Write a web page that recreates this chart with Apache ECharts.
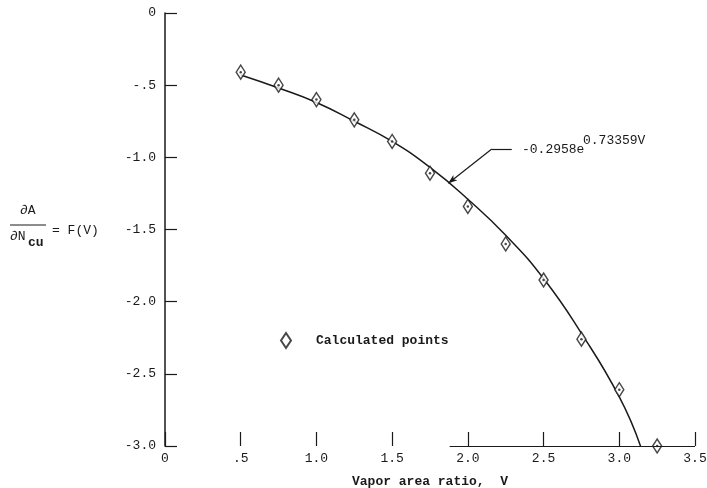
<!DOCTYPE html>
<html>
<head>
<meta charset="utf-8">
<script src="https://cdn.jsdelivr.net/npm/echarts@6/dist/echarts.min.js"></script>
<style>
	html, body { margin: 0; padding: 0; background: #fff; }
	#chart { width: 707px; height: 488px; }
</style>
</head>
<body>
<div id="chart"></div>
<script>
// calculated points
var pointV = [0.5, 0.75, 1.0, 1.25, 1.5, 1.75, 2.0, 2.25, 2.5, 2.75, 3.0, 3.25];
var pointF = [-0.41, -0.50, -0.60, -0.74, -0.89, -1.11, -1.34, -1.60, -1.85, -2.26, -2.61, -3.0];
// fitted curve
var curveV = [0.5, 0.75, 1.0, 1.25, 1.5, 1.75, 2.0, 2.25, 2.5, 2.75, 3.0, 3.14];
var curveF = [-0.43, -0.52, -0.62, -0.75, -0.89, -1.07, -1.29, -1.54, -1.84, -2.22, -2.66, -3.0];
var xTickValues = [0, 0.5, 1.0, 1.5, 2.0, 2.5, 3.0, 3.5];
var xTickLabels = ['0', '.5', '1.0', '1.5', '2.0', '2.5', '3.0', '3.5'];
var yTickValues = [0, -0.5, -1.0, -1.5, -2.0, -2.5, -3.0];
var yTickLabels = ['0', '-.5', '-1.0', '-1.5', '-2.0', '-2.5', '-3.0'];

var FONT = '"Liberation Mono", "DejaVu Sans Mono", monospace';
var INK = '#1a1a1a';

function zip(a, b) {
	var out = [];
	for (var i = 0; i < a.length; i++) out.push([a[i], b[i]]);
	return out;
}

function tickLabel(values, labels) {
	return function(v) {
		for (var i = 0; i < values.length; i++) {
			if (Math.abs(values[i] - v) < 1e-6) return labels[i];
		}
		return '';
	};
}

var myChart = echarts.init(document.getElementById('chart'));

var option = {
	animation: false,
	backgroundColor: '#fff',
	grid: {
		left: 165,
		right: 12,
		top: 13,
		bottom: 42,
		containLabel: false,
		outerBoundsMode: 'none'
	},
	legend: {
		data: ['Calculated points'],
		left: 275,
		top: 327,
		icon: 'diamond',
		itemWidth: 10,
		itemHeight: 15,
		selectedMode: false,
		textStyle: {
			fontFamily: FONT,
			fontSize: 13,
			fontWeight: 'bold',
			color: INK,
			padding: [0, 0, 0, 20]
		}
	},
	xAxis: {
		type: 'value',
		position: 'bottom',
		min: 0,
		max: 3.5,
		interval: 0.5,
		name: 'Vapor area ratio,  V',
		nameLocation: 'middle',
		nameGap: 29,
		nameTextStyle: {
			fontFamily: FONT,
			fontSize: 13,
			fontWeight: 'bold',
			color: INK
		},
		splitLine: { show: false },
		axisLine: { show: false, onZero: false },
		axisTick: {
			show: true,
			inside: true,
			length: 14,
			lineStyle: { color: INK, width: 1.2 }
		},
		axisLabel: {
			margin: 6,
			fontFamily: FONT,
			fontSize: 13,
			color: INK,
			formatter: tickLabel(xTickValues, xTickLabels)
		}
	},
	yAxis: {
		type: 'value',
		min: -3,
		max: 0,
		interval: 0.5,
		splitLine: { show: false },
		axisLine: {
			show: true,
			onZero: false,
			lineStyle: { color: INK, width: 1.5 }
		},
		axisTick: {
			show: true,
			inside: true,
			length: 12,
			lineStyle: { color: INK, width: 1.2 }
		},
		axisLabel: {
			margin: 9,
			fontFamily: FONT,
			fontSize: 13,
			color: INK,
			formatter: tickLabel(yTickValues, yTickLabels)
		}
	},
	series: [{
		name: 'curve',
		type: 'line',
		data: zip(curveV, curveF),
		showSymbol: false,
		smooth: 0.5,
		lineStyle: { color: INK, width: 1.5 },
		z: 3,
		markLine: {
			silent: true,
			symbol: ['none', 'none'],
			label: { show: false },
			lineStyle: { color: INK, width: 1.2, type: 'solid' },
			data: [
				// partial base line along the bottom
				[{ coord: [1.88, -3] }, { coord: [3.5, -3] }],
				// leader line of the equation
				[{ coord: [2.29, -0.942] }, { coord: [2.158, -0.942] }],
				[{ coord: [2.158, -0.942] }, { coord: [1.871, -1.18], symbol: 'arrow', symbolSize: [5, 9] }]
			]
		}
	}, {
		name: 'Calculated points',
		type: 'scatter',
		data: zip(pointV, pointF),
		symbol: 'diamond',
		symbolSize: [9, 14],
		clip: false,
		itemStyle: {
			color: '#fff',
			borderColor: INK,
			borderWidth: 1.5
		},
		z: 4
	}, {
		name: 'dots',
		type: 'scatter',
		data: zip(pointV, pointF),
		symbol: 'circle',
		symbolSize: 2.5,
		clip: false,
		itemStyle: { color: INK },
		z: 5
	}],
	graphic: [{
		type: 'text',
		left: 522,
		top: 143,
		style: {
			text: '-0.2958e',
			font: '13px ' + FONT,
			fill: INK
		}
	}, {
		type: 'text',
		left: 583,
		top: 134,
		style: {
			text: '0.73359V',
			font: '13px ' + FONT,
			fill: INK
		}
	}, {
		type: 'text',
		left: 20,
		top: 204,
		style: {
			text: '\u2202A',
			font: '13px ' + FONT,
			fill: INK
		}
	}, {
		type: 'line',
		shape: { x1: 10, y1: 225, x2: 46, y2: 225 },
		style: { stroke: INK, lineWidth: 1 }
	}, {
		type: 'text',
		left: 10,
		top: 230,
		style: {
			text: '\u2202N',
			font: '13px ' + FONT,
			fill: INK
		}
	}, {
		type: 'text',
		left: 28,
		top: 236,
		style: {
			text: 'cu',
			font: 'bold 13px ' + FONT,
			fill: INK
		}
	}, {
		type: 'text',
		left: 52,
		top: 224,
		style: {
			text: '= F(V)',
			font: '13px ' + FONT,
			fill: INK
		}
	}]
};

myChart.setOption(option);
</script>
</body>
</html>
